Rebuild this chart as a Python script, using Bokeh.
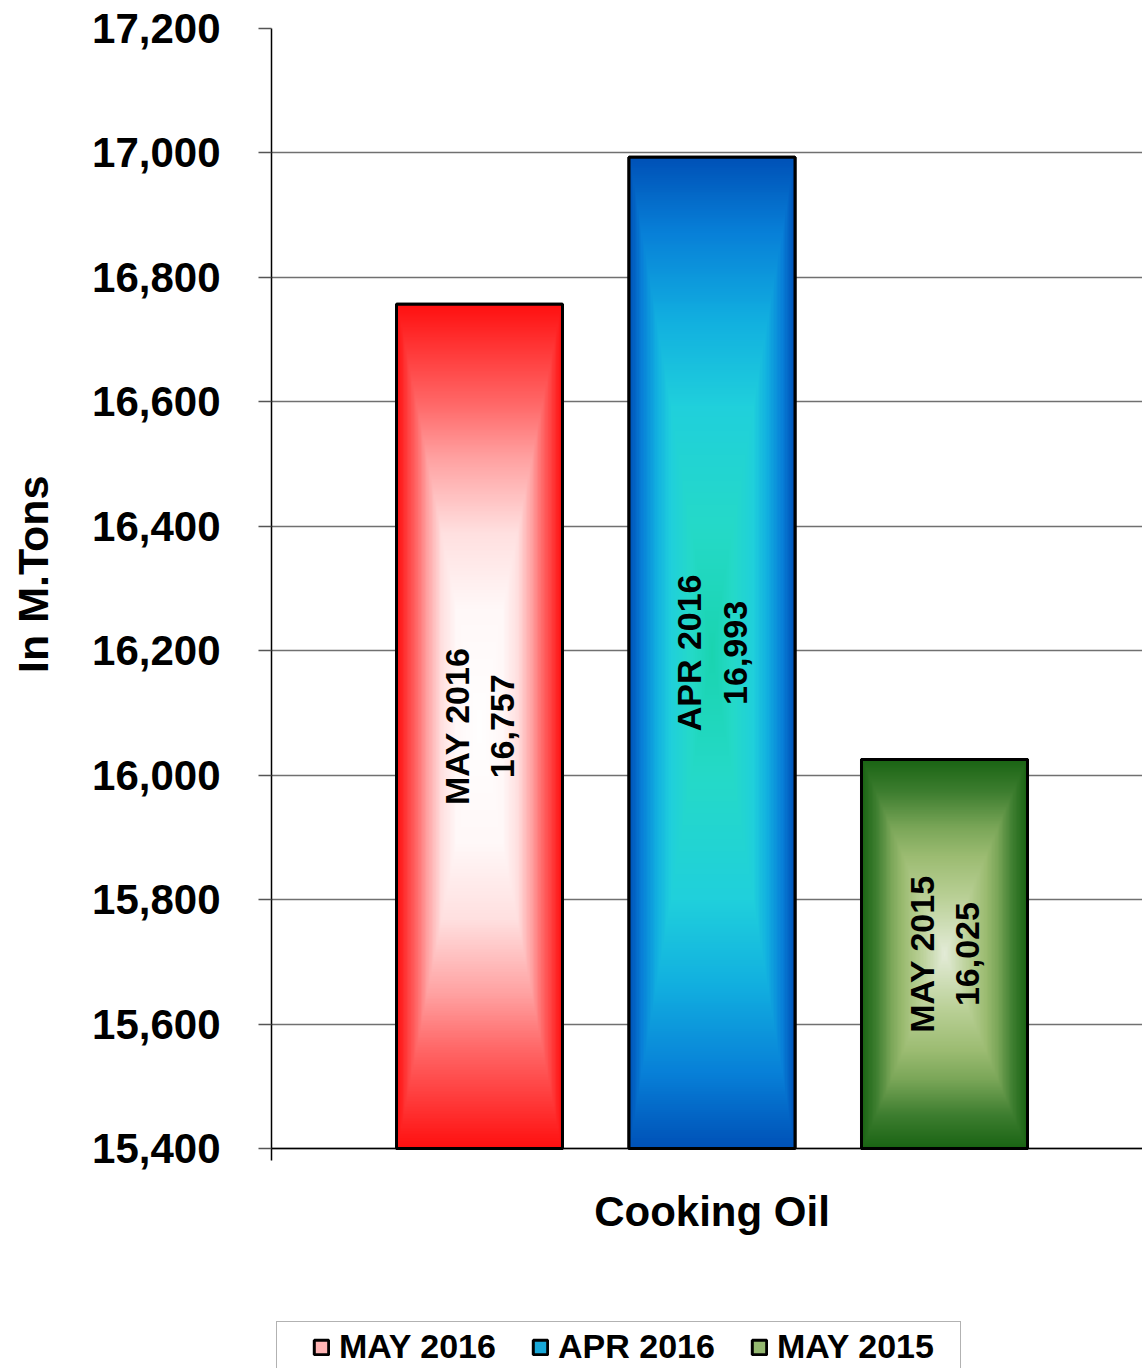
import numpy as np
from bokeh.plotting import figure
from bokeh.models import (Range1d, FixedTicker, NumeralTickFormatter, Legend, LegendItem,
                          Span, Title)
from bokeh.embed import file_html
from bokeh.resources import INLINE
from bokeh.core.properties import value

# ---------------- data ----------------
categories = ["MAY 2016", "APR 2016", "MAY 2015"]
values = [16757, 16993, 16025]
group_label = "Cooking Oil"
y_ticks = [15400, 15600, 15800, 16000, 16200, 16400, 16600, 16800, 17000, 17200]
y_title = "In M.Tons"

# ---------------- styles ----------------
FONT = "Liberation Sans"
Y0, Y1 = 15400, 17200
PXU = 1120 / (Y1 - Y0)          # pixels per data unit on the y axis
Y_START = Y0 - 220 / PXU        # frame reaches down to the legend area
X0, X1 = -0.8946, 2.8516
BAR_W = 0.714
gradient_stops = [
    [(0.0, "#ffffff"), (0.28, "#fff8f8"), (0.46, "#ffe0e0"), (0.64, "#ffa0a0"), (0.76, "#ff6a6a"), (1.0, "#ff1010")],
    [(0.0, "#1ad4b0"), (0.25, "#25dac8"), (0.5, "#20d0dc"), (0.67, "#12b0e0"), (0.85, "#0880d8"), (1.0, "#0052b8")],
    [(0.0, "#e4ecd8"), (0.3, "#b8cf94"), (0.5, "#9cbc72"), (0.65, "#7aa658"), (0.83, "#3e7e30"), (1.0, "#1a6414")],
]
legend_fill = ["#ffb4b4", "#18a8d8", "#94b870"]


def hex_rgb(h):
    h = h.lstrip("#")
    return [int(h[i:i + 2], 16) for i in (0, 2, 4)]


def gradient_image(stops, nx=120, ny=500):
    u = np.linspace(-1, 1, nx)
    v = np.linspace(-1, 1, ny)
    U, V = np.meshgrid(u, v)
    t = np.maximum(np.abs(U), np.abs(V))
    pos = [s[0] for s in stops]
    cols = np.array([hex_rgb(s[1]) for s in stops])
    img = np.empty((ny, nx), dtype=np.uint32)
    view = img.view(dtype=np.uint8).reshape((ny, nx, 4))
    for c in range(3):
        view[:, :, c] = np.interp(t, pos, cols[:, c]).astype(np.uint8)
    view[:, :, 3] = 255
    return img


p = figure(width=1142, height=1368, output_backend="svg", toolbar_location=None,
           x_range=Range1d(X0, X1), y_range=Range1d(Y_START, Y1),
           x_axis_location=None,
           min_border_left=271, min_border_right=0, min_border_top=28, min_border_bottom=0)
p.outline_line_color = None
p.background_fill_color = "white"
p.border_fill_color = "white"

xs = list(range(len(categories)))

p.xgrid.grid_line_color = None
p.ygrid.ticker = FixedTicker(ticks=y_ticks)
p.ygrid.grid_line_color = "#707070"
p.ygrid.grid_line_width = 1.5

legend_items = []
for i, (cat, v) in enumerate(zip(categories, values)):
    r = p.vbar(x=[xs[i]], top=[v], bottom=Y0, width=BAR_W,
               fill_color=legend_fill[i], line_color="black", line_width=3)
    legend_items.append(LegendItem(label=cat, renderers=[r]))
    p.image_rgba(image=[gradient_image(gradient_stops[i])], x=xs[i] - BAR_W / 2, y=Y0,
                 dw=BAR_W, dh=v - Y0)

p.vbar(x=xs, top=values, bottom=Y0, width=BAR_W, fill_color=None,
       line_color="black", line_width=3)

p.add_layout(Span(location=Y0, dimension="width", line_color="black", line_width=1.5))

p.text(x=[sum(xs) / len(xs)], y=[Y0 - 63 / PXU], text=[group_label],
       text_align="center", text_baseline="alphabetic",
       text_font=value(FONT), text_font_style="bold", text_font_size="42px",
       text_color="black")

p.text(x=xs, y=[(v + Y0) / 2 for v in values],
       text=[f"{c}\n{v:,}" for c, v in zip(categories, values)],
       angle=np.pi / 2, text_align="center", text_baseline="middle",
       text_font=value(FONT), text_font_style="bold", text_font_size="34px",
       text_color="black", text_line_height=1.2)

ya = p.yaxis[0]
ya.ticker = FixedTicker(ticks=y_ticks, minor_ticks=[])
ya.bounds = (Y0 - 12 / PXU, Y1)
ya.formatter = NumeralTickFormatter(format="0,0")
ya.major_label_text_font = FONT
ya.major_label_text_font_style = "bold"
ya.major_label_text_font_size = "42px"
ya.major_label_text_color = "black"
ya.major_label_standoff = 38
ya.major_tick_out = 13
ya.major_tick_in = 0
ya.major_tick_line_color = "#555555"
ya.major_tick_line_width = 1.5
ya.axis_line_color = "black"
ya.axis_line_width = 1.5

# value-axis title as a side title; an empty second line pushes it outward
p.add_layout(Title(text=y_title + "\n", align="right", offset=447, standoff=12,
                   text_font=FONT, text_font_style="bold", text_font_size="43px",
                   text_line_height=0.55, text_color="black"), "left")

legend = Legend(items=legend_items, orientation="horizontal", location=(5, -4),
                padding=5, spacing=14, label_standoff=9, margin=0,
                label_width=178,
                glyph_width=18, glyph_height=18,
                title=" ", title_location="left", title_standoff=2,
                title_text_font_size="24px",
                label_text_font=FONT, label_text_font_style="bold",
                label_text_font_size="34px", label_text_color="black",
                border_line_color="#666666", border_line_width=1.5,
                background_fill_color="white", background_fill_alpha=1.0,
                click_policy="none")
p.add_layout(legend, "center")

open("out.html", "w").write(file_html(p, INLINE))
